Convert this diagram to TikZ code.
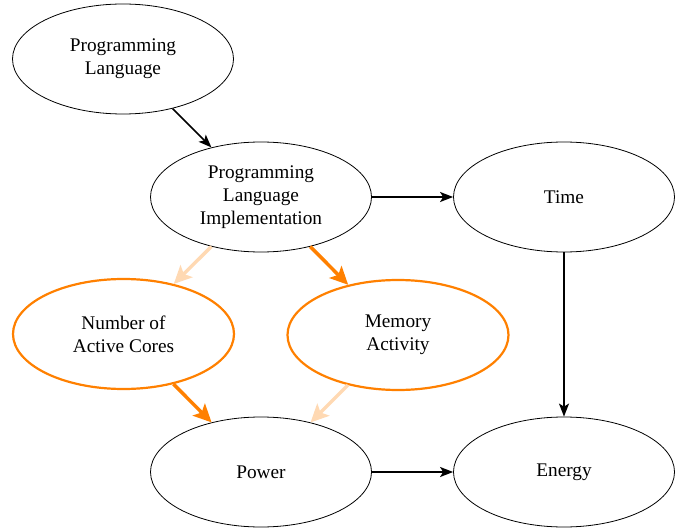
\documentclass[tikz,border=0pt]{standalone}
\usepackage{fontspec}
\setmainfont{Liberation Serif}
\usetikzlibrary{arrows.meta}
\definecolor{hiorange}{RGB}{255,128,0}
\definecolor{looorange}{RGB}{255,217,179}
\tikzset{
  ell/.style={ellipse, draw=black, line width=0.8pt, minimum width=221pt, minimum height=110pt, inner sep=0pt, align=center, font=\fontsize{19.3}{23}\selectfont},
  hiell/.style={ell, draw=hiorange, line width=2.2pt},
  blackarr/.style={-{Stealth[length=13pt,width=10pt,inset=3pt]}, line width=1.6pt, black},
  hiarr/.style={-{Stealth[length=18pt,width=17pt,inset=4pt]}, line width=3.5pt, hiorange},
  loarr/.style={-{Stealth[length=18pt,width=17pt,inset=4pt]}, line width=3.5pt, looorange},
}
\usetikzlibrary{shapes.geometric}
\begin{document}
\begin{tikzpicture}[x=1pt,y=-1pt]
\useasboundingbox (0,0) rectangle (685,529);
\node[ell] (pl) at (123,59) {Programming\\Language};
\node[ell] (pli) at (261,197) {Programming\\Language\\Implementation};
\node[ell] (time) at (564,197) {Time};
\node[hiell] (nac) at (123.5,334) {Number of\\Active Cores};
\node[hiell] (ma) at (398,335) {Memory\\Activity};
\node[ell] (pow) at (261,472) {Power};
\node[ell] (en) at (564,472) {Energy};
\draw[blackarr] (pl) -- (pli);
\draw[blackarr] (pli) -- (time);
\draw[blackarr] (time) -- (en);
\draw[blackarr] (pow) -- (en);
\draw[loarr] (pli) -- (nac);
\draw[hiarr] (pli) -- (ma);
\draw[hiarr] (nac) -- (pow);
\draw[loarr] (ma) -- (pow);
\end{tikzpicture}
\end{document}
